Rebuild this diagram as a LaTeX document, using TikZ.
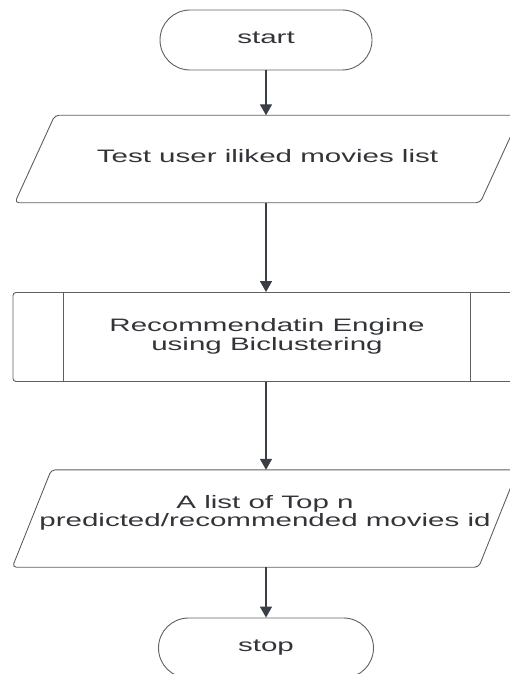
\documentclass[tikz,border=0pt]{standalone}
\usepackage{fontspec}
\setmainfont{Liberation Sans}
\usepackage{graphicx}
\usetikzlibrary{shapes.misc,arrows.meta}

\definecolor{linegray}{RGB}{95,95,95}
\definecolor{arrowgray}{RGB}{58,62,70}
\definecolor{textgray}{RGB}{50,52,56}

\newcommand{\wide}[1]{\scalebox{1.64}[1]{\begin{tabular}{@{}c@{}}#1\end{tabular}}}

\tikzset{
  term/.style={rounded rectangle, draw=linegray, line width=0.9pt, minimum width=212pt, minimum height=60pt},
  io/.style={rectangle, minimum width=505pt},
  ioframe/.style={draw=linegray, line width=0.9pt, rounded corners=4pt},
  proc/.style={rectangle, draw=linegray, line width=0.9pt, rounded corners=3pt, minimum width=508pt, minimum height=89pt},
  arr/.style={draw=arrowgray, line width=1.4pt, -{Triangle[width=12pt,length=11pt]}}
}

\begin{document}
\begin{tikzpicture}[x=1pt,y=1pt,font=\fontsize{18}{18}\selectfont,text=textgray,inner sep=0pt]
    \useasboundingbox (0,0) rectangle (510,-674);

    \node[term] (start) at (266,-40) {\wide{start}};
    \node[io, minimum height=87pt] (in) at (267.5,-159) {\wide{Test user iliked movies list}};
    \node[proc] (eng) at (267,-337) {\wide{Recommendatin Engine\\using Biclustering}};
    \node[io, minimum height=97pt] (out) at (265,-518.5) {\raisebox{5pt}[\height][\depth]{\wide{A list of Top n\\predicted/recommended movies id}}};
    \node[term, minimum width=215pt] (stop) at (266,-648) {\wide{stop}};

    \draw[ioframe] (in.south west) -- ([xshift=40pt]in.north west) -- (in.north east) -- ([xshift=-40pt]in.south east) -- cycle;
    \draw[ioframe] (out.south west) -- ([xshift=39pt]out.north west) -- (out.north east) -- ([xshift=-39pt]out.south east) -- cycle;

    \draw[linegray, line width=0.9pt] ([xshift=51pt]eng.north west) -- ([xshift=51pt]eng.south west);
    \draw[linegray, line width=0.9pt] ([xshift=-51pt]eng.north east) -- ([xshift=-51pt]eng.south east);

    \draw[arr] (start.south) -- (start.south |- in.north);
    \draw[arr] (start.south |- in.south) -- (start.south |- eng.north);
    \draw[arr] (start.south |- eng.south) -- (start.south |- out.north);
    \draw[arr] (start.south |- out.south) -- (stop.north);
\end{tikzpicture}
\end{document}
